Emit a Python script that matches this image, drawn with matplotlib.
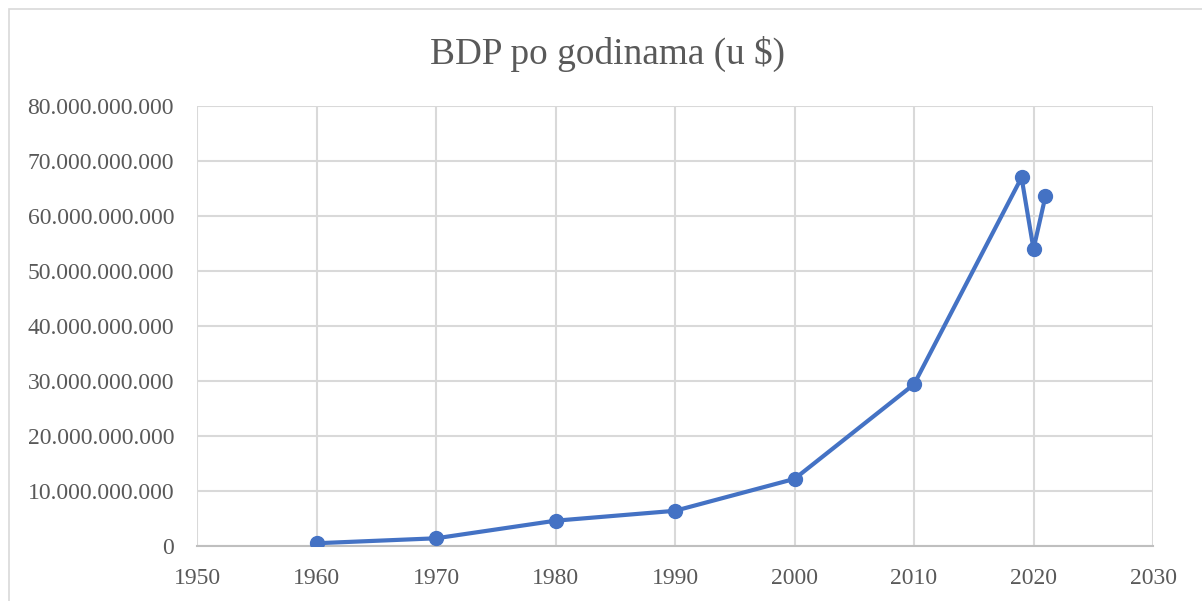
import matplotlib.pyplot as plt
from matplotlib.ticker import FuncFormatter, MultipleLocator
from matplotlib.patches import Rectangle

# --- Data (GDP by year, USD) ---
years = [1960, 1970, 1980, 1990, 2000, 2010, 2019, 2020, 2021]
gdp = [0.5e9, 1.4e9, 4.6e9, 6.4e9, 12.2e9, 29.4e9, 67.0e9, 54.0e9, 63.6e9]

title = 'BDP po godinama (u $)'
lineColor = '#4472C4'
textColor = '#595959'
gridColor = '#d9d9d9'

plt.rcParams['font.family'] = ['Liberation Serif', 'DejaVu Serif']

fig = plt.figure(figsize=(12.02, 6.01), dpi=100)

# chart border like in excel
fig.patches.append(Rectangle((9 / 1202, -0.01), 1.2, 1 - 9 / 601 + 0.01, transform=fig.transFigure,
                             fill=False, edgecolor='#d9d9d9', linewidth=1.2))

ax = fig.add_axes([197 / 1202, 1 - 546 / 601, 956 / 1202, 440 / 601])
ax.plot(years, gdp, color=lineColor, linewidth=3, marker='o', markersize=10, zorder=3)

ax.set_xlim(1950, 2030)
ax.set_ylim(0, 80e9)
ax.xaxis.set_major_locator(MultipleLocator(10))
ax.yaxis.set_major_locator(MultipleLocator(10e9))


def thousands(v, pos):
    return f'{int(round(v)):,}'.replace(',', '.')


ax.yaxis.set_major_formatter(FuncFormatter(thousands))
ax.grid(True, color=gridColor, linewidth=1.5)
ax.set_axisbelow(True)
for s in ['top', 'right', 'left']:
    ax.spines[s].set_visible(False)
ax.spines['bottom'].set_color('#bfbfbf')
ax.spines['bottom'].set_linewidth(1.5)
ax.tick_params(axis='both', length=0, labelsize=17, labelcolor=textColor)
ax.tick_params(axis='x', pad=16)
ax.tick_params(axis='y', pad=16.5)

fig.text(607 / 1202, 1 - 54 / 601, title, ha='center', va='center', fontsize=26.8, color=textColor)

fig.savefig('out.png', dpi=100)
